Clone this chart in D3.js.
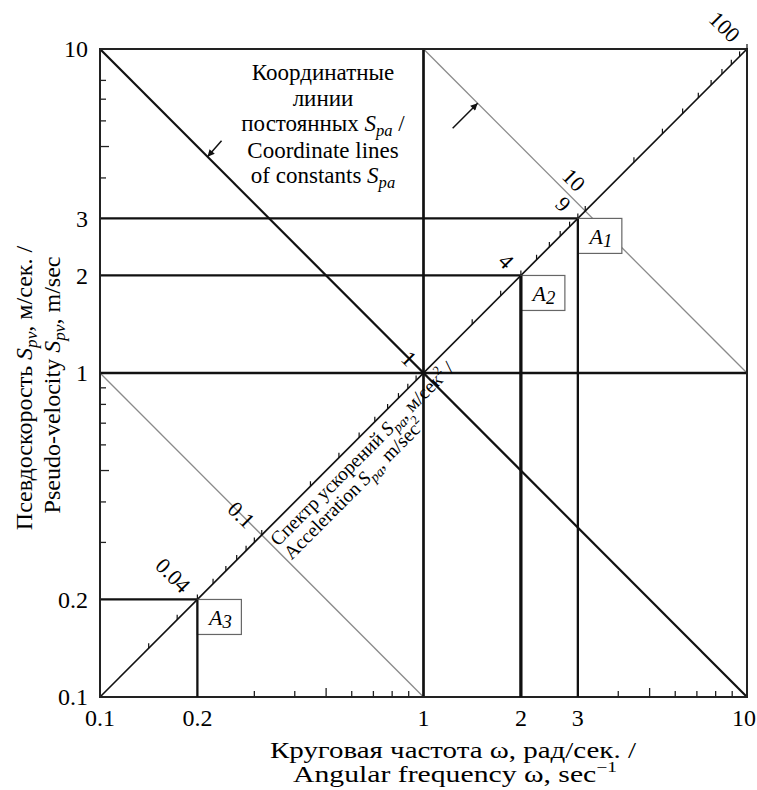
<!DOCTYPE html>
<html>
<head>
<meta charset="utf-8">
<script src="https://cdn.jsdelivr.net/npm/d3@7"></script>
<style>
  body { margin: 0; background: #fff; }
  svg { font-family: "Liberation Serif", "Times New Roman", serif; }
</style>
</head>
<body>
<svg id="chart"></svg>
<script>
const width = 757;
const height = 790;

// axis ticks: angular frequency (x) and pseudo-velocity (y)
const xTickValues = [0.1, 0.2, 1, 2, 3, 10];
const yTickValues = [0.1, 0.2, 1, 2, 3, 10];
const xMinorTicks = [0.3, 0.4, 0.5, 0.6, 0.7, 0.8, 0.9, 4, 5, 6, 7, 8, 9];
const yMinorTicks = [0.3, 0.4, 0.5, 0.6, 0.7, 0.8, 0.9, 4, 5, 6, 7, 8];

// spectrum points A1..A3: omega and Spv
const pointNames = ["A1", "A2", "A3"];
const pointOmega = [3, 2, 0.2];
const pointSpv = [3, 2, 0.2];

// lines of constant Spa
const spaLines = [0.1, 1, 10];

// Spa scale along the diagonal
const spaTicks = [0.02, 0.03, 0.04, 0.05, 0.06, 0.07, 0.08, 0.09,
  0.1, 0.2, 0.3, 0.4, 0.5, 0.6, 0.7, 0.8, 0.9,
  1, 2, 3, 4, 5, 6, 7, 8, 9,
  10, 20, 30, 40, 50, 60, 70, 80, 90, 100];
const spaLabels = [0.04, 0.1, 1, 4, 9, 10, 100];

const svg = d3.select("#chart")
  .attr("width", width)
  .attr("height", height);

const x = d3.scaleLog().domain([0.1, 10]).range([100, 747]);
const y = d3.scaleLog().domain([0.1, 10]).range([697, 49]);

const fmt = d => String(d);

// text with italic / sub / sup parts
function rich(sel, parts, fs) {
  let shift = 0;
  parts.forEach(p => {
    const ts = sel.append("tspan").text(p.t);
    let target = 0;
    if (p.sub) { ts.attr("font-size", fs * (p.size || 0.72)); target = fs * (p.shift || 0.22); }
    if (p.sup) { ts.attr("font-size", fs * 0.65); target = -fs * 0.42; }
    if (p.it) ts.attr("font-style", "italic");
    if (target !== shift) { ts.attr("dy", target - shift); shift = target; }
  });
}

const line = d3.line().x(d => x(d[0])).y(d => y(d[1]));

// lines of constant Spa (Spv = Spa / omega)
spaLines.forEach(s => {
  const w0 = Math.max(0.1, s / 10), w1 = Math.min(10, s / 0.1);
  svg.append("path")
    .attr("d", line([[w0, s / w0], [w1, s / w1]]))
    .attr("fill", "none")
    .attr("stroke", s === 1 ? "#111" : "#8a8a8a")
    .attr("stroke-width", s === 1 ? 2.2 : 1.3);
});

// diagonal Spa axis (Spv = omega)
svg.append("path")
  .attr("d", line([[0.1, 0.1], [10, 10]]))
  .attr("fill", "none")
  .attr("stroke", "#111")
  .attr("stroke-width", 1.7);

// main grid lines at 1
svg.append("path").attr("d", line([[0.1, 1], [10, 1]]))
  .attr("stroke", "#111").attr("stroke-width", 2.7);
svg.append("path").attr("d", line([[1, 0.1], [1, 10]]))
  .attr("stroke", "#111").attr("stroke-width", 2.7);

// guide lines from points to the axes
pointNames.forEach((n, i) => {
  const w = pointOmega[i], v = pointSpv[i];
  svg.append("path").attr("d", line([[0.1, v], [w, v]]))
    .attr("stroke", "#111").attr("stroke-width", 2.3);
});

// frame
svg.append("rect")
  .attr("x", x(0.1)).attr("y", y(10))
  .attr("width", x(10) - x(0.1)).attr("height", y(0.1) - y(10))
  .attr("fill", "none").attr("stroke", "#222").attr("stroke-width", 2);

// minor ticks
xMinorTicks.forEach(t => {
  const len = (t === 0.5 || t === 5) ? 9 : 6;
  svg.append("line")
    .attr("x1", x(t)).attr("x2", x(t))
    .attr("y1", y(0.1)).attr("y2", y(0.1) - len)
    .attr("stroke", "#222").attr("stroke-width", 1.3);
});
yMinorTicks.forEach(t => {
  const len = (t === 0.5 || t === 5) ? 9 : 6;
  svg.append("line")
    .attr("y1", y(t)).attr("y2", y(t))
    .attr("x1", x(0.1)).attr("x2", x(0.1) + len)
    .attr("stroke", "#222").attr("stroke-width", 1.3);
});

// tick labels
svg.append("g").selectAll("text")
  .data(xTickValues).join("text")
  .attr("x", d => Math.min(x(d), 744)).attr("y", 726)
  .attr("text-anchor", "middle")
  .attr("font-size", 24)
  .text(fmt);
svg.append("g").selectAll("text")
  .data(yTickValues).join("text")
  .attr("x", 88).attr("y", d => y(d))
  .attr("dy", "0.35em")
  .attr("text-anchor", "end")
  .attr("font-size", 24)
  .text(fmt);

// ticks on the diagonal
spaTicks.forEach(s => {
  const w = Math.sqrt(s);
  svg.append("line")
    .attr("x1", x(w)).attr("x2", x(w))
    .attr("y1", y(w)).attr("y2", y(w) - 5)
    .attr("stroke", "#111").attr("stroke-width", 1.2);
});

// labels on the diagonal
spaLabels.forEach(s => {
  const w = Math.sqrt(s);
  const g = svg.append("g")
    .attr("transform", `translate(${x(w)},${y(w)}) rotate(45)`);
  g.append("text")
    .attr("text-anchor", "end")
    .attr("font-size", 22)
    .attr("x", s === 10 ? -19 : -15)
    .attr("y", s === 10 ? -14 : 0)
    .attr("dy", "0.35em")
    .text(fmt(s));
});

// boxes for points
pointNames.forEach((n, i) => {
  const px = x(pointOmega[i]), py = y(pointSpv[i]);
  svg.append("rect")
    .attr("x", px).attr("y", py)
    .attr("width", 44).attr("height", 35)
    .attr("fill", "#fff").attr("stroke", "#666").attr("stroke-width", 1.2);
  const t = svg.append("text")
    .attr("x", px + 23).attr("y", py + 26)
    .attr("text-anchor", "middle")
    .attr("font-size", 22);
  rich(t, [{t: n[0], it: true}, {t: n.slice(1), it: true, sub: true, size: 0.85, shift: 0.1}], 22);
});

// vertical guide lines drawn over the boxes' left edges
pointNames.forEach((n, i) => {
  const w = pointOmega[i], v = pointSpv[i];
  svg.append("path").attr("d", line([[w, 0.1], [w, v]]))
    .attr("stroke", "#111").attr("stroke-width", n === "A2" ? 3.3 : 2.3);
});

// Spa axis title along the diagonal
const wT = Math.sqrt(0.1);
const gT = svg.append("g")
  .attr("transform", `translate(${x(wT)},${y(wT)}) rotate(-45)`)
  .attr("font-size", 19.5);
rich(gT.append("text").attr("x", 3).attr("y", 20),
  [{t: "Спектр ускорений "}, {t: "S", it: true}, {t: "pa", it: true, sub: true},
   {t: ", м/сек"}, {t: "2", sup: true}, {t: " /"}], 19.5);
rich(gT.append("text").attr("x", 3).attr("y", 39),
  [{t: "Acceleration "}, {t: "S", it: true}, {t: "pa", it: true, sub: true},
   {t: ", m/sec"}, {t: "2", sup: true}], 19.5);

// annotation: coordinate lines of constant Spa
const ann = svg.append("g").attr("font-size", 23).attr("text-anchor", "middle");
const annLines = [
  [{t: "Координатные"}],
  [{t: "линии"}],
  [{t: "постоянных "}, {t: "S", it: true}, {t: "pa", it: true, sub: true}, {t: " /"}],
  [{t: "Coordinate lines"}],
  [{t: "of constants "}, {t: "S", it: true}, {t: "pa", it: true, sub: true}]
];
const annY = [80, 106, 131, 158, 183];
annLines.forEach((parts, i) => {
  rich(ann.append("text").attr("x", 323).attr("y", annY[i]), parts, 23);
});

// arrows pointing at the constant-Spa lines
svg.append("defs").append("marker")
  .attr("id", "ah").attr("viewBox", "0 0 10 10")
  .attr("refX", 10).attr("refY", 5)
  .attr("markerWidth", 9).attr("markerHeight", 7)
  .attr("markerUnits", "userSpaceOnUse")
  .attr("orient", "auto")
  .append("path").attr("d", "M0,0L10,5L0,10z").attr("fill", "#111");
const arrowTargets = [{spa: 1, w: 0.215, dx: 14, dy: -16}, {spa: 10, w: 1.47, dx: -25, dy: 25}];
arrowTargets.forEach(a => {
  const hx = x(a.w), hy = y(a.spa / a.w);
  svg.append("line")
    .attr("x1", hx + a.dx).attr("y1", hy + a.dy)
    .attr("x2", hx).attr("y2", hy)
    .attr("stroke", "#111").attr("stroke-width", 1.5)
    .attr("marker-end", "url(#ah)");
});

// axis titles; the x title is stretched to the reference's wide lettering
function fitWidth(text, cx, by, target) {
  const w = text.node().getBBox().width;
  text.attr("text-anchor", "start").attr("x", 0).attr("y", 0)
    .attr("transform", `translate(${cx - target / 2},${by}) scale(${target / w},1)`);
}
const xt = svg.append("g").attr("font-size", 23);
const xt1 = xt.append("text");
rich(xt1, [{t: "Круговая частота ω, рад/сек. /"}], 23);
fitWidth(xt1, 453.5, 758, 367);
const xt2 = xt.append("text");
rich(xt2, [{t: "Angular frequency ω, sec"}, {t: "−1", sup: true}], 23);
fitWidth(xt2, 455, 782, 324);

const yt = svg.append("g").attr("font-size", 24).attr("text-anchor", "middle");
rich(yt.append("text").attr("transform", "translate(32,388) rotate(-90)"),
  [{t: "Псевдоскорость "}, {t: "S", it: true}, {t: "pv", it: true, sub: true}, {t: ", м/сек. /"}], 24);
rich(yt.append("text").attr("transform", "translate(60,385) rotate(-90)"),
  [{t: "Pseudo-velocity "}, {t: "S", it: true}, {t: "pv", it: true, sub: true}, {t: ", m/sec"}], 24);
</script>
</body>
</html>
